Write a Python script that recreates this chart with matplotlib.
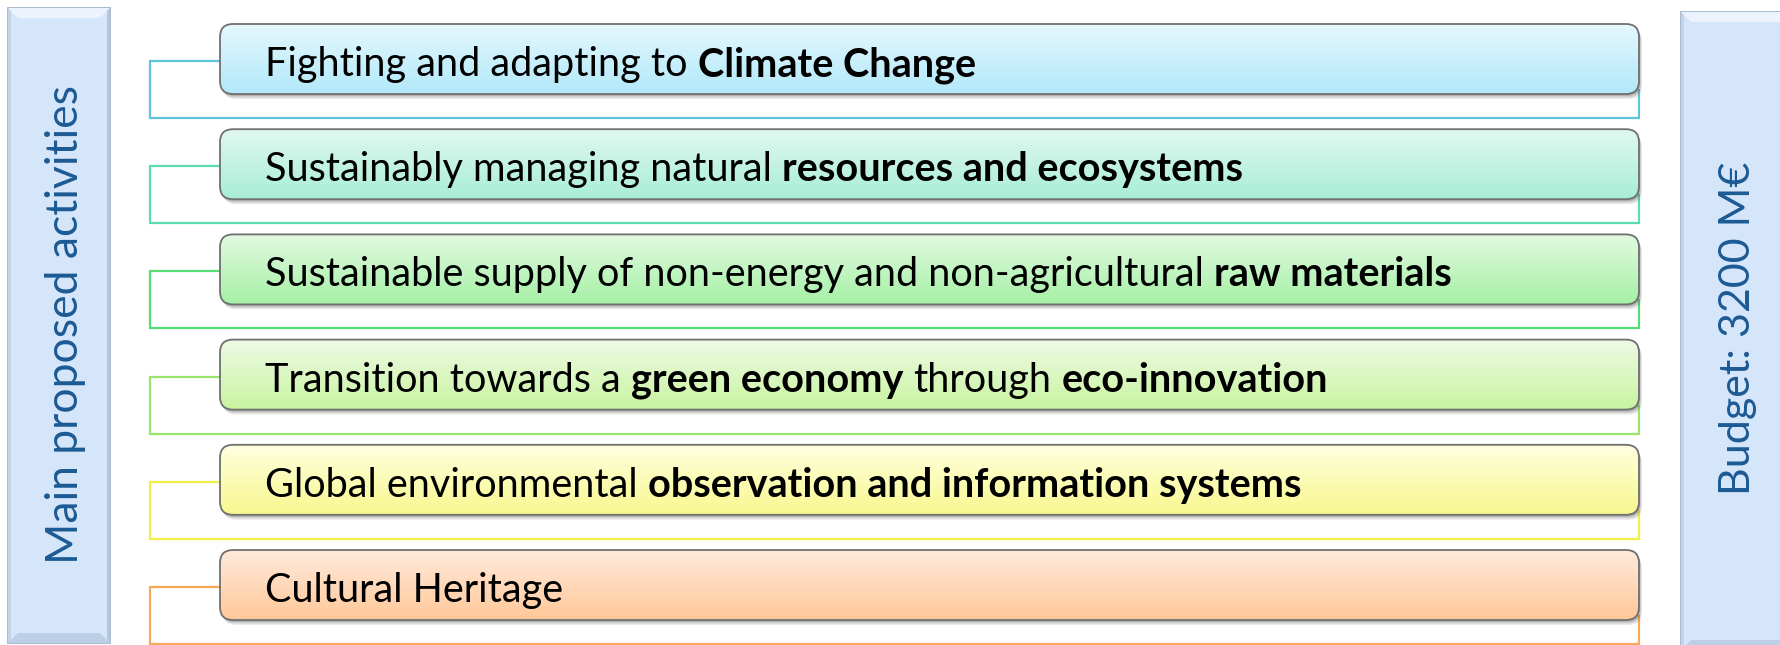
import numpy as np
import matplotlib
matplotlib.use("Agg")
import matplotlib.pyplot as plt
from matplotlib.patches import FancyBboxPatch, Polygon, Rectangle
from matplotlib.colors import to_rgb

# rows of the diagram: (text, bold) segments
ROW_TEXT = [
    [("Fighting and adapting to", False), ("Climate Change", True)],
    [("Sustainably managing natural", False), ("resources and ecosystems", True)],
    [("Sustainable supply of non-energy and non-agricultural", False), ("raw materials", True)],
    [("Transition towards a", False), ("green economy", True), ("through", False), ("eco-innovation", True)],
    [("Global environmental", False), ("observation and information systems", True)],
    [("Cultural Heritage", False)],
]
TOP_COLORS = ["#e4f8fe", "#e0f8f0", "#e2fae2", "#eefae4", "#ffffe0", "#ffeadc"]
BOTTOM_COLORS = ["#b2e8fa", "#a8eed6", "#a6f0a6", "#c8f4a0", "#f8f88e", "#ffc898"]
LINE_COLORS = ["#5ec4da", "#5adcb4", "#58dc78", "#98e46c", "#f0f048", "#f8a858"]
LEFT_LABEL = "Main proposed activities"
RIGHT_LABEL = "Budget: 3200 M€"

W, H = 1781, 645
FONT = "Lato"
ROW_SIZE = 28.5
SIDE_SIZE = 32
SIDE_COLOR = "#1c5a94"

fig = plt.figure(figsize=(W / 100, H / 100), dpi=100)
ax = fig.add_axes([0, 0, 1, 1])
ax.set_xlim(0, W)
ax.set_ylim(H, 0)
ax.axis("off")


def side_panel(x0, x1, y0, y1):
    ax.add_patch(Rectangle((x0, y0), x1 - x0, y1 - y0, fc="#d6e6fa", ec="#98aec6", lw=1.2, zorder=1))
    b = 10
    ax.add_patch(Polygon([(x0, y0), (x1, y0), (x1 - b, y0 + b), (x0 + b, y0 + b)],
                         closed=True, fc="#edf3fd", ec="none", zorder=2))
    ax.add_patch(Polygon([(x0, y1), (x1, y1), (x1 - b, y1 - b), (x0 + b, y1 - b)],
                         closed=True, fc="#bccfe6", ec="none", zorder=2))
    ax.add_patch(Polygon([(x0, y0), (x0 + 3, y0 + 3), (x0 + 3, y1 - 3), (x0, y1)],
                         closed=True, fc="#c4d4e8", ec="none", zorder=2))
    ax.add_patch(Polygon([(x1, y0), (x1 - 3, y0 + 3), (x1 - 3, y1 - 3), (x1, y1)],
                         closed=True, fc="#b4c6dc", ec="none", zorder=2))


side_panel(8, 110, 8, 643)
side_panel(1681, 1790, 12, 650)
ax.text(66, 324, LEFT_LABEL, rotation=90, ha="center", va="center",
        fontsize=SIDE_SIZE, family=FONT, color=SIDE_COLOR, zorder=5)
ax.text(1738, 328, RIGHT_LABEL, rotation=90, ha="center", va="center",
        fontsize=SIDE_SIZE - 1, family=FONT, color=SIDE_COLOR, zorder=5)

renderer = fig.canvas.get_renderer()


def text_width(s, bold):
    t = ax.text(0, 0, s, fontsize=ROW_SIZE, family=FONT,
                fontweight="bold" if bold else "normal")
    w = t.get_window_extent(renderer).width
    t.remove()
    return w


space_w = text_width("a a", False) - text_width("aa", False)

bx0, bx1 = 220, 1639
box_h = 70
pitch = 105.2
first_top = 24
gy = np.linspace(0, 1, 100)

for i, segs in enumerate(ROW_TEXT):
    top = first_top + i * pitch
    lc = LINE_COLORS[i]
    # bracket connector
    ax.plot([bx0, 150, 150, bx1, bx1], [top + 37, top + 37, top + 94, top + 94, top + box_h - 4],
            color=lc, lw=1.6, solid_joinstyle="miter", zorder=2)
    # shadow
    for off, a in [(5, 0.12), (3.5, 0.18), (2, 0.25)]:
        ax.add_patch(FancyBboxPatch((bx0 + off * 0.6, top + off), bx1 - bx0, box_h,
                                    boxstyle="round,pad=0,rounding_size=13",
                                    fc="#555555", ec="none", alpha=a, zorder=3))
    box = FancyBboxPatch((bx0, top), bx1 - bx0, box_h,
                         boxstyle="round,pad=0,rounding_size=13",
                         fc="none", ec="#707070", lw=1.3, zorder=5)
    ax.add_patch(box)
    c0, c1 = np.array(to_rgb(TOP_COLORS[i])), np.array(to_rgb(BOTTOM_COLORS[i]))
    grad = (c0[None, :] * (1 - gy[:, None]) + c1[None, :] * gy[:, None])[:, None, :]
    im = ax.imshow(grad, extent=(bx0, bx1, top + box_h, top), origin="upper",
                   aspect="auto", zorder=4, interpolation="bilinear")
    im.set_clip_path(box)
    # mixed weight label
    x = 265
    for seg, bold in segs:
        ax.text(x, top + 52, seg, fontsize=ROW_SIZE, family=FONT,
                fontweight="bold" if bold else "normal", color="black",
                ha="left", va="baseline", zorder=6)
        x += text_width(seg, bold) + space_w

ax.set_xlim(0, W)
ax.set_ylim(H, 0)
fig.savefig("out.png", dpi=100)
